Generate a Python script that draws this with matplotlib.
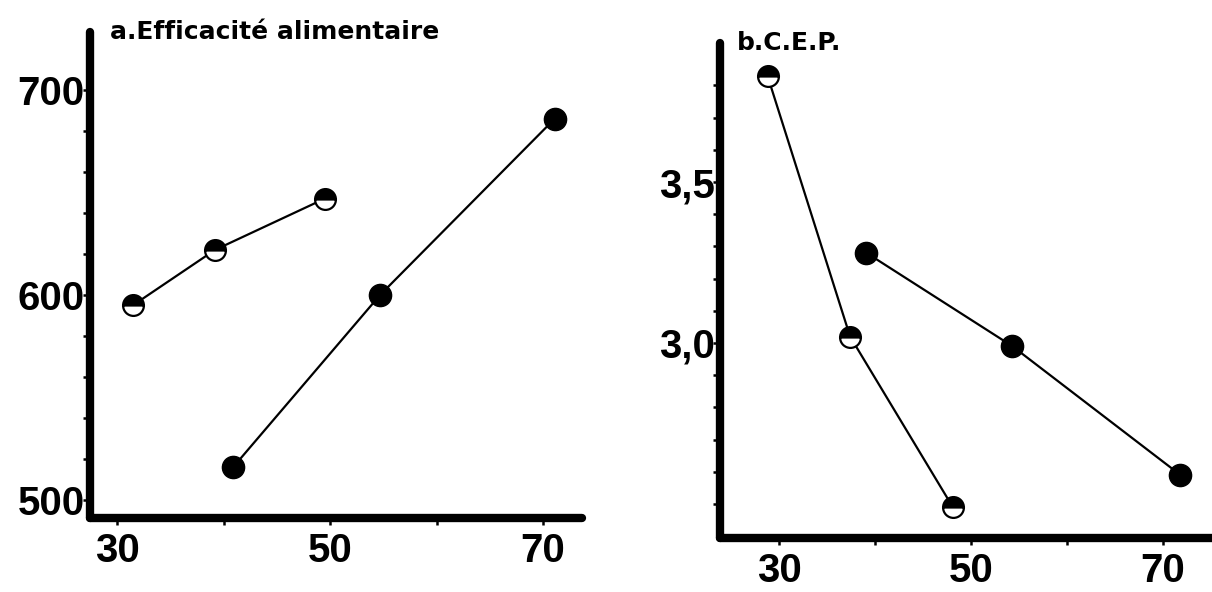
import matplotlib
matplotlib.use("Agg")
import matplotlib.pyplot as plt

# values
x_open_a = [31.5, 39.2, 49.5]
y_open_a = [595, 622, 647]
x_full_a = [40.9, 54.7, 71.1]
y_full_a = [516, 600, 686]

x_open_b = [28.8, 37.4, 48.1]
y_open_b = [3.83, 3.02, 2.49]
x_full_b = [39.1, 54.3, 71.8]
y_full_b = [3.28, 2.99, 2.59]

x_ticks = [30, 50, 70]
x_minor = [40, 60]
y_ticks_a = [500, 600, 700]
y_minor_a = [520, 540, 560, 580, 620, 640, 660, 680]
y_ticks_b = [3.0, 3.5]
y_labels_b = ["3,0", "3,5"]
y_minor_b = [2.5, 2.6, 2.7, 2.8, 2.9, 3.1, 3.2, 3.3, 3.4, 3.6, 3.7, 3.8]

tick_font = ["Liberation Sans Narrow", "Liberation Sans", "DejaVu Sans"]

W, H = 1212, 592
fig = plt.figure(figsize=(W / 100, H / 100), dpi=100)

def px_axes(left, top, right, bottom):
    return fig.add_axes([left / W, 1 - bottom / H, (right - left) / W, (bottom - top) / H])

def style(ax):
    for s in ["top", "right"]:
        ax.spines[s].set_visible(False)
    for s in ["left", "bottom"]:
        ax.spines[s].set_linewidth(6)
        ax.spines[s].set_capstyle("round")
    ax.tick_params(which="both", direction="out", length=5, width=1.8, color="black")
    ax.tick_params(axis="y", pad=-1)
    ax.tick_params(axis="x", pad=5)
    ax.set_xticks(x_ticks)
    ax.set_xticks(x_minor, minor=True)
    for lab in ax.get_xticklabels() + ax.get_yticklabels():
        lab.set_fontfamily(tick_font)
        lab.set_fontsize(29)
        lab.set_fontweight("bold")

def draw(ax, xo, yo, xf, yf):
    ax.plot(xo, yo, color="black", lw=1.6, marker="o", ms=15, fillstyle="top",
            markerfacecolor="black", markerfacecoloralt="white",
            markeredgecolor="black", markeredgewidth=1.6)
    ax.plot(xf, yf, color="black", lw=1.6, marker="o", ms=16,
            markerfacecolor="black", markeredgecolor="black")

# a. Efficacité alimentaire
ax1 = px_axes(90, 32, 582, 518)
draw(ax1, x_open_a, y_open_a, x_full_a, y_full_a)
ax1.set_xlim(27.46, 73.66)
ax1.set_ylim(491.2, 728.3)
ax1.set_yticks(y_ticks_a)
ax1.set_yticks(y_minor_a, minor=True)
style(ax1)
ax1.text(0.04, 1.0, "a.Efficacité alimentaire", transform=ax1.transAxes,
         ha="left", va="center", fontsize=18, fontweight="heavy", family="DejaVu Sans")

# b. C.E.P.
ax2 = px_axes(720, 43, 1212, 538)
draw(ax2, x_open_b, y_open_b, x_full_b, y_full_b)
ax2.set_xlim(23.85, 75.1)
ax2.set_ylim(2.394, 3.932)
ax2.set_yticks(y_ticks_b)
ax2.set_yticklabels(y_labels_b)
ax2.set_yticks(y_minor_b, minor=True)
style(ax2)
ax2.text(0.035, 1.0, "b.C.E.P.", transform=ax2.transAxes,
         ha="left", va="center", fontsize=18, fontweight="heavy", family="DejaVu Sans")

fig.savefig("out.png", dpi=100)
